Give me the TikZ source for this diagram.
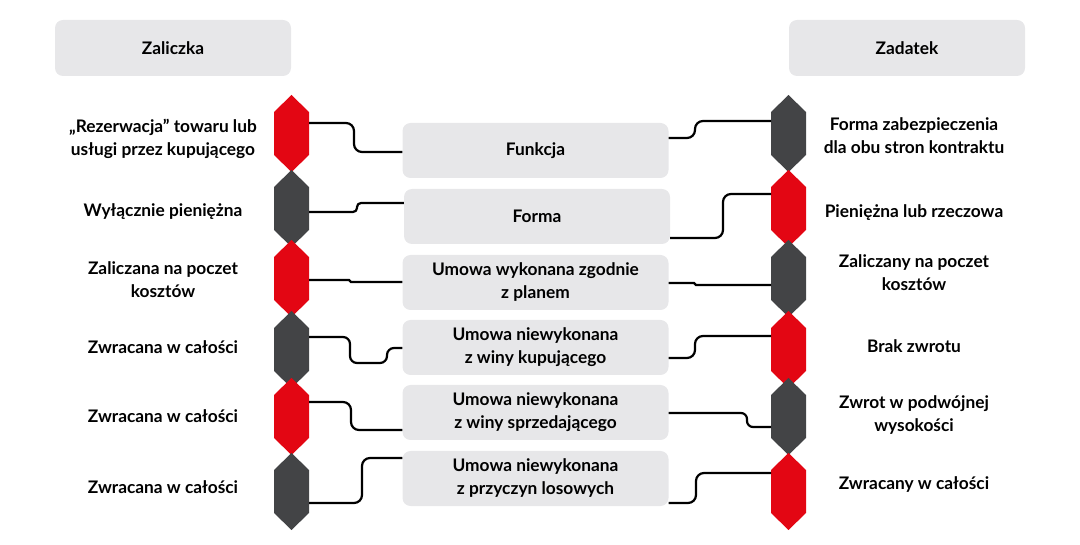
\documentclass[tikz,border=0pt]{standalone}
\usepackage{fontspec}
\setmainfont{Lato}
\usetikzlibrary{calc}
\definecolor{zred}{RGB}{227,6,19}
\definecolor{zgray}{RGB}{67,68,70}
\definecolor{boxgray}{RGB}{231,231,233}

\begin{document}
\begin{tikzpicture}[x=1pt, y=-1pt,
	txt/.style={font=\fontsize{17.3}{23}\selectfont\bfseries, align=center, text=black},
	pane/.style={txt, fill=boxgray, rounded corners=8pt, minimum width=266pt, minimum height=55pt, inner sep=0pt},
	head/.style={txt, fill=boxgray, rounded corners=8pt, minimum width=236pt, minimum height=56pt, inner sep=0pt},
	link/.style={line width=2.2pt, rounded corners=8pt}]

	\useasboundingbox (0,0) rectangle (1080,545);

	% headers
	\node[head] (hzal) at (173,48) {Zaliczka};
	\node[head] (hzad) at (907,48) {Zadatek};

	% middle boxes
	\node[pane] (fun) at (535.5,150.5) {Funkcja};
	\node[pane] (frm) at (537,216.5) {Forma};
	\node[pane] (wyk) at (535.5,282.5) {Umowa wykonana zgodnie\\z planem};
	\node[pane] (kup) at (535.5,347.5) {Umowa niewykonana\\z winy kupującego};
	\node[pane] (spr) at (535.5,412.5) {Umowa niewykonana\\z winy sprzedającego};
	\node[pane] (los) at (535.5,478.5) {Umowa niewykonana\\z przyczyn losowych};

	% left chain
	\fill[zred]  (291.5,95)  -- ++(17.5,17) -- ++(0,43) -- ++(-17.5,17) -- ++(-17.5,-17) -- ++(0,-43) -- cycle;
	\fill[zgray] (291.5,170) -- ++(17.5,17) -- ++(0,43) -- ++(-17.5,17) -- ++(-17.5,-17) -- ++(0,-43) -- cycle;
	\fill[zred]  (291.5,240) -- ++(17.5,17) -- ++(0,43) -- ++(-17.5,17) -- ++(-17.5,-17) -- ++(0,-43) -- cycle;
	\fill[zgray] (291.5,311) -- ++(17.5,17) -- ++(0,43) -- ++(-17.5,17) -- ++(-17.5,-17) -- ++(0,-43) -- cycle;
	\fill[zred]  (291.5,378) -- ++(17.5,17) -- ++(0,43) -- ++(-17.5,17) -- ++(-17.5,-17) -- ++(0,-43) -- cycle;
	\fill[zgray] (291.5,453) -- ++(17.5,17) -- ++(0,43) -- ++(-17.5,17) -- ++(-17.5,-17) -- ++(0,-43) -- cycle;

	% right chain
	\fill[zgray] (788.5,95)  -- ++(17.5,17) -- ++(0,43) -- ++(-17.5,17) -- ++(-17.5,-17) -- ++(0,-43) -- cycle;
	\fill[zred]  (788.5,170) -- ++(17.5,17) -- ++(0,43) -- ++(-17.5,17) -- ++(-17.5,-17) -- ++(0,-43) -- cycle;
	\fill[zgray] (788.5,240) -- ++(17.5,17) -- ++(0,43) -- ++(-17.5,17) -- ++(-17.5,-17) -- ++(0,-43) -- cycle;
	\fill[zred]  (788.5,311) -- ++(17.5,17) -- ++(0,43) -- ++(-17.5,17) -- ++(-17.5,-17) -- ++(0,-43) -- cycle;
	\fill[zgray] (788.5,378) -- ++(17.5,17) -- ++(0,43) -- ++(-17.5,17) -- ++(-17.5,-17) -- ++(0,-43) -- cycle;
	\fill[zred]  (788.5,453) -- ++(17.5,17) -- ++(0,43) -- ++(-17.5,17) -- ++(-17.5,-17) -- ++(0,-43) -- cycle;

	\coordinate (pl1) at (309,123);
	\coordinate (pl2) at (309,212);
	\coordinate (pl3) at (309,280);
	\coordinate (pl4) at (309,337);
	\coordinate (pl5) at (309,402);
	\coordinate (pl6) at (309,503);

	\coordinate (pr1) at (771,121);
	\coordinate (pr2) at (771,194);
	\coordinate (pr3) at (771,285);
	\coordinate (pr4) at (771,336);
	\coordinate (pr5) at (771,427);
	\coordinate (pr6) at (771,473);

	% labels
	\node[txt] (tl1) at (163,139) {„Rezerwacja” towaru lub\\usługi przez kupującego};
	\node[txt] (tl2) at (163,212) {Wyłącznie pieniężna};
	\node[txt] (tl3) at (163,280) {Zaliczana na poczet\\kosztów};
	\node[txt] (tl4) at (163,347) {Zwracana w całości};
	\node[txt] (tl5) at (163,416) {Zwracana w całości};
	\node[txt] (tl6) at (163,487) {Zwracana w całości};

	\node[txt] (tr1) at (914,136) {Forma zabezpieczenia\\dla obu stron kontraktu};
	\node[txt] (tr2) at (914,213) {Pieniężna lub rzeczowa};
	\node[txt] (tr3) at (914,273) {Zaliczany na poczet\\kosztów};
	\node[txt] (tr4) at (914,346) {Brak zwrotu};
	\node[txt] (tr5) at (914,415) {Zwrot w podwójnej\\wysokości};
	\node[txt] (tr6) at (914,485) {Zwracany w całości};

	% left links
	\draw[link] (pl1) -| (354,152) -- ($(fun.west)+(0,1.5)$);
	\draw[link, rounded corners=4pt] (pl2) -| (357,203) -- ($(frm.west)+(0,-13.5)$);
	\draw[link, rounded corners=1pt] (pl3) -| (350,282) -- ($(wyk.west)+(0,-0.5)$);
	\draw[link, rounded corners=7pt] (pl4) -| (350,363) -| (387,348) -- ($(kup.west)+(0,0.5)$);
	\draw[link] (pl5) -| (351,430) -- ($(spr.west)+(0,17.5)$);
	\draw[link] (pl6) -| (362,458) -- ($(los.west)+(0,-20.5)$);

	% right links
	\draw[link] ($(fun.east)+(0,-12.5)$) -| (695,121) -- (pr1);
	\draw[link] ($(frm.east)+(0,21.5)$) -| (723,194) -- (pr2);
	\draw[link, rounded corners=1pt] ($(wyk.east)+(0,0.5)$) -| (695,285) -- (pr3);
	\draw[link] ($(kup.east)+(0,10.5)$) -| (695,336) -- (pr4);
	\draw[link, rounded corners=6pt] ($(spr.east)+(0,0.5)$) -| (747,427) -- (pr5);
	\draw[link] ($(los.east)+(0,24.5)$) -| (696,473) -- (pr6);

\end{tikzpicture}
\end{document}
